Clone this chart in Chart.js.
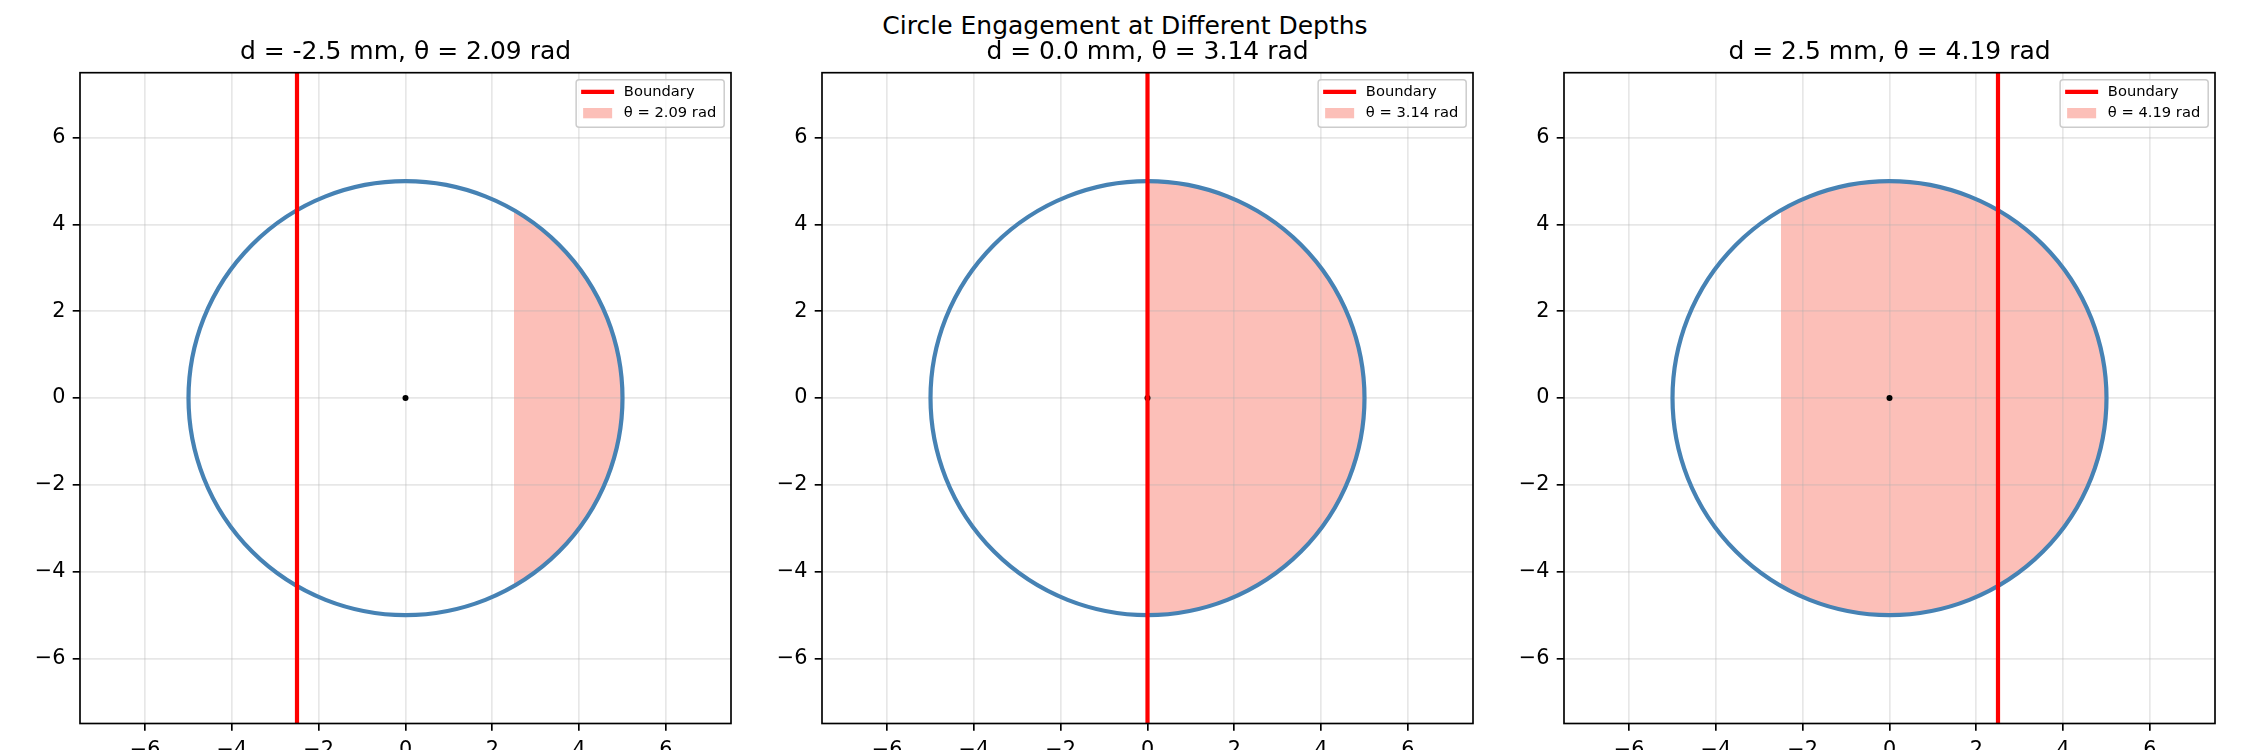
<!DOCTYPE html>
<html>
<head>
<meta charset="utf-8">
<title>Circle Engagement at Different Depths</title>
<script src="https://cdn.jsdelivr.net/npm/chart.js"></script>
<style>
  html, body { margin: 0; padding: 0; background: #fff; }
  body { width: 2250px; height: 750px; position: relative; overflow: hidden; font-family: "DejaVu Sans", sans-serif; }
  #suptitle { position: absolute; left: 0; top: 13px; width: 2250px; text-align: center; font-size: 25px; line-height: 25px; color: #000; }
  canvas { position: absolute; top: 0; }
</style>
</head>
<body>
<div id="suptitle">Circle Engagement at Different Depths</div>
<canvas id="panel-0" width="811" height="750"></canvas>
<canvas id="panel-1" width="811" height="750"></canvas>
<canvas id="panel-2" width="811" height="750"></canvas>
<script>
// values
const depths = [-2.5, 0.0, 2.5];
const angles = [2.09, 3.14, 4.19];
const fillStarts = [2.5, 0.0, -2.5];
const radius = 5;
const center = [0, 0];
const axisLimits = [-7.5, 7.5];
const tickValues = [-6, -4, -2, 0, 2, 4, 6];

const panelLefts = [0, 742, 1484];

const COLORS = {
  circle: "#4682b4",
  boundary: "#ff0000",
  fill: "rgba(250, 128, 114, 0.5)",
  grid: "rgba(176, 176, 176, 0.3)",
  spine: "#000",
};

Chart.defaults.font.family = '"DejaVu Sans", sans-serif';
Chart.defaults.color = "#000";

function formatTick(v) {
  return v < 0 ? "\u2212" + Math.abs(v) : String(v);
}

function axisOptions(isX) {
  return {
    type: "linear",
    position: isX ? "bottom" : "left",
    min: axisLimits[0],
    max: axisLimits[1],
    afterBuildTicks: (axis) => {
      axis.ticks = tickValues.map((v) => ({ value: v }));
    },
    afterFit: (axis) => {
      if (isX) axis.height = 26.5;
      else axis.width = 80;
    },
    grid: {
      color: COLORS.grid,
      lineWidth: 1.67,
      drawTicks: true,
      tickLength: 7.3,
      tickColor: "#000",
      tickWidth: 1.67,
    },
    border: { display: false },
    ticks: {
      color: "#000",
      font: { size: 20.8 },
      padding: 7.3,
      maxRotation: 0,
      autoSkip: false,
      callback: formatTick,
    },
  };
}

function engagementPlugin(i) {
  return {
    id: "engagement" + i,
    // filled segment goes under the grid
    beforeDraw(chart) {
      const { ctx, chartArea, scales: { x, y } } = chart;
      const cx = x.getPixelForValue(center[0]);
      const cy = y.getPixelForValue(center[1]);
      const r = x.getPixelForValue(center[0] + radius) - cx;
      const xs = x.getPixelForValue(fillStarts[i]);
      ctx.save();
      ctx.beginPath();
      ctx.rect(chartArea.left, chartArea.top, chartArea.width, chartArea.height);
      ctx.clip();
      ctx.beginPath();
      ctx.arc(cx, cy, r, 0, Math.PI * 2);
      ctx.clip();
      ctx.fillStyle = COLORS.fill;
      ctx.fillRect(xs, cy - r, cx + r - xs, 2 * r);
      ctx.restore();
    },
    beforeDatasetsDraw(chart) {
      const { ctx, scales: { x, y } } = chart;
      const cx = x.getPixelForValue(center[0]);
      const cy = y.getPixelForValue(center[1]);
      const r = x.getPixelForValue(center[0] + radius) - cx;
      ctx.save();
      ctx.beginPath();
      ctx.arc(cx, cy, r, 0, Math.PI * 2);
      ctx.strokeStyle = COLORS.circle;
      ctx.lineWidth = 4.2;
      ctx.stroke();
      ctx.restore();
    },
    afterDraw(chart) {
      const { ctx, chartArea } = chart;
      ctx.save();
      // axes frame
      ctx.strokeStyle = COLORS.spine;
      ctx.lineWidth = 1.67;
      ctx.strokeRect(chartArea.left, chartArea.top, chartArea.width, chartArea.height);

      // legend, upper right
      const fs = 14.7;
      ctx.font = fs + 'px "DejaVu Sans", sans-serif';
      const items = [
        { text: chart.data.datasets[0].label, type: "line", color: COLORS.boundary },
        { text: "\u03b8 = " + angles[i].toFixed(2) + " rad", type: "patch", color: COLORS.fill },
      ];
      const textW = Math.max(...items.map((it) => ctx.measureText(it.text).width));
      const w = 47.7 + textW + 8;
      const h = 47.6;
      const bx = chartArea.right - 6.8 - w;
      const by = chartArea.top + 7;
      ctx.beginPath();
      ctx.roundRect(bx, by, w, h, 3);
      ctx.fillStyle = "rgba(255, 255, 255, 0.8)";
      ctx.fill();
      ctx.strokeStyle = "#cccccc";
      ctx.lineWidth = 1.5;
      ctx.stroke();

      items.forEach((it, k) => {
        const rowY = by + 12.2 + k * 21.2;
        if (it.type === "line") {
          ctx.beginPath();
          ctx.moveTo(bx + 5, rowY);
          ctx.lineTo(bx + 38, rowY);
          ctx.strokeStyle = it.color;
          ctx.lineWidth = 4.2;
          ctx.stroke();
        } else {
          ctx.fillStyle = it.color;
          ctx.fillRect(bx + 7, rowY - 5.1, 29, 10.3);
        }
        ctx.fillStyle = "#000";
        ctx.textBaseline = "middle";
        ctx.textAlign = "left";
        ctx.fillText(it.text, bx + 47.7, rowY);
      });
      ctx.restore();
    },
  };
}

function initPanel(i) {
  const canvas = document.getElementById("panel-" + i);
  canvas.style.left = panelLefts[i] + "px";

  return new Chart(canvas, {
    type: "scatter",
    data: {
      datasets: [
        {
          label: "Boundary",
          data: axisLimits.map((v) => ({ x: depths[i], y: v })),
          showLine: true,
          borderColor: COLORS.boundary,
          borderWidth: 4.2,
          pointRadius: 0,
          pointHoverRadius: 0,
        },
        {
          label: "Center",
          data: [{ x: center[0], y: center[1] }],
          pointRadius: 3,
          pointHoverRadius: 3,
          backgroundColor: "#000",
          borderWidth: 0,
        },
      ],
    },
    options: {
      responsive: false,
      animation: false,
      events: [],
      layout: { padding: { top: 37, right: 80, left: 0, bottom: 0 } },
      plugins: {
        legend: { display: false },
        tooltip: { enabled: false },
        title: {
          display: true,
          text: "d = " + depths[i].toFixed(1) + " mm, \u03b8 = " + angles[i].toFixed(2) + " rad",
          fullSize: false,
          color: "#000",
          font: { size: 25, weight: "normal" },
          padding: { top: 0, bottom: 5.7 },
        },
      },
      scales: {
        x: axisOptions(true),
        y: axisOptions(false),
      },
    },
    plugins: [engagementPlugin(i)],
  });
}

depths.forEach((d, i) => initPanel(i));
</script>
</body>
</html>
